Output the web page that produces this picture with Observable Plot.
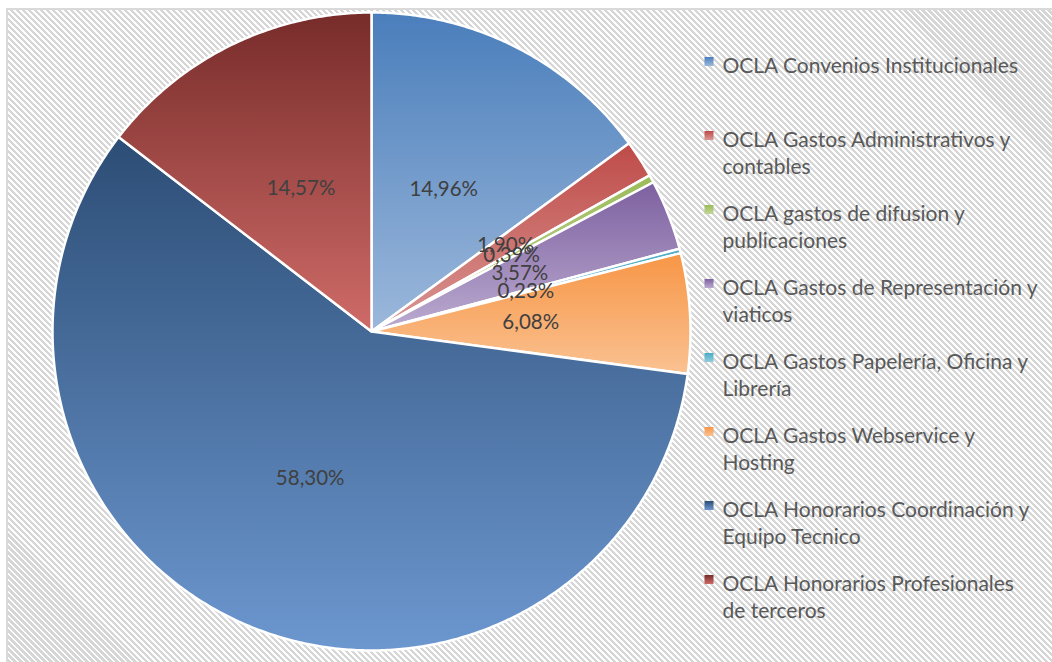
<!DOCTYPE html>
<html><head><meta charset="utf-8">
<script src="https://cdn.jsdelivr.net/npm/d3@7"></script>
<script src="https://cdn.jsdelivr.net/npm/@observablehq/plot@0.6"></script>
<style>
html,body{margin:0;padding:0;background:#fff;overflow:hidden;width:1052px;height:662px;position:relative}
#frame{position:absolute;left:6px;top:8px;width:1100px;height:700px;border-left:2px solid #d9d9d9;border-top:2px solid #d9d9d9;
background:repeating-linear-gradient(45deg,#d6d6d6 0 2.2px,#fff 2.2px 4.24px);}
#pie{position:absolute;left:41px;top:1px}
#legend{position:absolute;left:690px;top:0}
</style></head><body>
<div id="frame"></div>
<div id="pie"></div>
<div id="legend"></div>
<script>
// ---- data ----
const categories = [
  "OCLA Convenios Institucionales",
  "OCLA Gastos Administrativos y contables",
  "OCLA gastos de difusion y publicaciones",
  "OCLA Gastos de Representación y viaticos",
  "OCLA Gastos Papelería, Oficina y Librería",
  "OCLA Gastos Webservice y Hosting",
  "OCLA Honorarios Coordinación y Equipo Tecnico",
  "OCLA Honorarios Profesionales de terceros"
];
const shares = [14.96, 1.90, 0.39, 3.57, 0.23, 6.08, 58.30, 14.57];

// ---- styles ----
const gradTop =    ["#4A7EBB", "#BE4B48", "#9BBB59", "#7D60A0", "#4BACC6", "#F79646", "#2C4D75", "#772C2A"];
const gradBottom = ["#9CB8DB", "#DA9794", "#C4D79B", "#BBABD0", "#93CDDD", "#FAC292", "#6C97CF", "#CF6B68"];
const FS = 21;
const FSL = 20.5;
const FONT = "Lato, 'Open Sans', sans-serif";

// ---- geometry derived from data ----
const total = d3.sum(shares);
let acc = 0;
const slices = shares.map((v, i) => {
  const a0 = acc / total * 2 * Math.PI; acc += v;
  const a1 = acc / total * 2 * Math.PI;
  return {i, a0, a1, v};
});
const polys = slices.map(s => {
  const pts = [{x: 0, y: 0}];
  const n = Math.max(2, Math.ceil((s.a1 - s.a0) / (Math.PI / 360)));
  for (let k = 0; k <= n; k++) {
    const a = s.a0 + (s.a1 - s.a0) * k / n;
    pts.push({x: Math.sin(a), y: Math.cos(a)});
  }
  return pts;
});
const labelData = slices.map(s => {
  const m = (s.a0 + s.a1) / 2;
  return {x: 0.5 * Math.sin(m), y: 0.5 * Math.cos(m), t: s.v.toFixed(2).replace(".", ",") + "%"};
});

const defsMark = () => {
  const defs = d3.create("svg:defs");
  gradTop.forEach((c, i) => {
    const g = defs.append("linearGradient").attr("id", `g${i}`)
      .attr("x1", 0).attr("y1", 0).attr("x2", 0).attr("y2", 1);
    g.append("stop").attr("offset", 0).attr("stop-color", c);
    g.append("stop").attr("offset", 1).attr("stop-color", gradBottom[i]);
  });
  return defs.node();
};

const H = 1.0345;
const pie = Plot.plot({
  width: 660, height: 660, margin: 0,
  x: {domain: [-H, H], axis: null},
  y: {domain: [-H, H], axis: null},
  style: {background: "transparent", overflow: "visible", fontFamily: FONT},
  marks: [
    defsMark,
    ...polys.map((p, i) => Plot.line(p, {x: "x", y: "y", fill: `url(#g${i})`, stroke: "white", strokeWidth: 2.5, curve: "linear-closed"})),
    Plot.text(labelData, {x: "x", y: "y", text: "t", fontSize: FSL, fill: "#404040", fontFamily: FONT})
  ]
});
document.getElementById("pie").append(pie);

// wrap legend labels by measuring text
const ctx = document.createElement("canvas").getContext("2d");
ctx.font = `${FS}px Lato`;
function wrap(s, maxW) {
  const words = s.split(" "); const lines = []; let cur = "";
  for (const w of words) {
    const t = cur ? cur + " " + w : w;
    if (ctx.measureText(t).width > maxW && cur) { lines.push(cur); cur = w; } else cur = t;
  }
  lines.push(cur);
  return lines.join("\n");
}

const legend = Plot.plot({
  width: 362, height: 662, marginTop: 61, marginBottom: 83, marginLeft: 18.5, marginRight: 0,
  x: {domain: [0, 1], axis: null},
  y: {type: "point", domain: categories, axis: null, padding: 0},
  color: {type: "identity"},
  style: {background: "transparent", overflow: "visible", fontFamily: FONT},
  marks: [
    Plot.dot(categories, {frameAnchor: "left", y: d => d, symbol: "square", r: 5.1, fill: (d, i) => `url(#g${i})`}),
    Plot.text(categories, {frameAnchor: "left", y: d => d, text: d => wrap(d, 317), dx: 13.5, textAnchor: "start",
      lineAnchor: "top", dy: -8, lineHeight: 1.3, fontSize: FS, fill: "#595959", fontFamily: FONT})
  ]
});
document.getElementById("legend").append(legend);
</script>
</body></html>
